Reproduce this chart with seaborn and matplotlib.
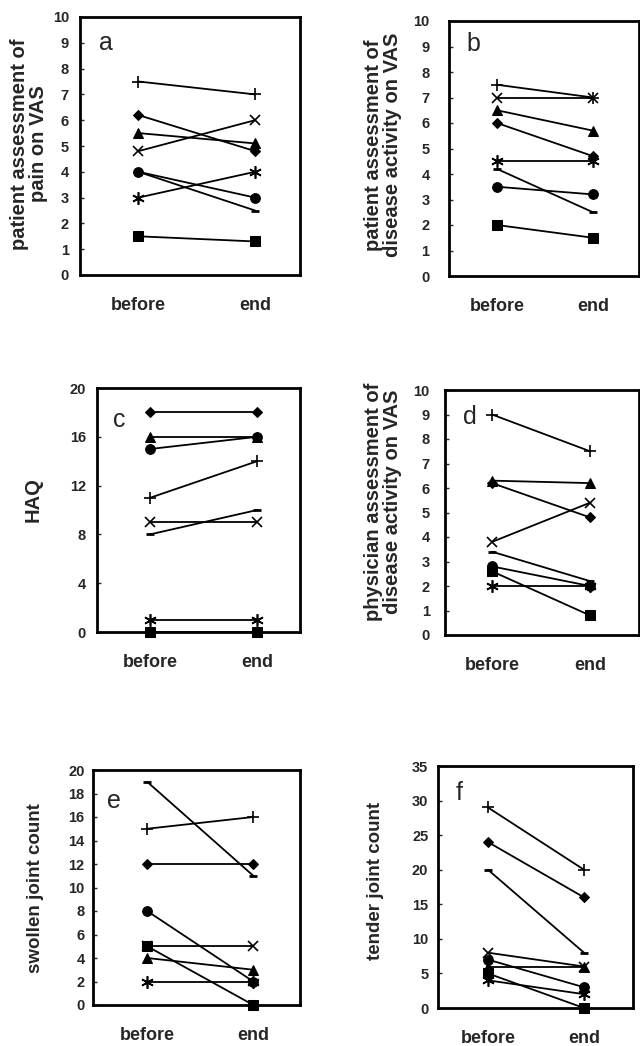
import matplotlib
matplotlib.use("Agg")
import matplotlib.pyplot as plt
import seaborn as sns
import pandas as pd

sns.set_style("white")
plt.rcParams['font.family'] = ['Liberation Sans', 'DejaVu Sans']

# patients (marker types), same order in every panel
patients = ["plus", "diamond", "triangle", "cross", "circle", "dash", "asterisk", "square"]
times = ["before", "end"]

a_before = [7.5, 6.2, 5.5, 4.8, 4.0, 4.0, 3.0, 1.5]
a_end    = [7.0, 4.8, 5.1, 6.0, 3.0, 2.5, 4.0, 1.3]
b_before = [7.5, 6.0, 6.5, 7.0, 3.5, 4.2, 4.5, 2.0]
b_end    = [7.0, 4.7, 5.7, 7.0, 3.2, 2.5, 4.5, 1.5]
c_before = [11, 18, 16, 9, 15, 8, 1, 0]
c_end    = [14, 18, 16, 9, 16, 10, 1, 0]
d_before = [9.0, 6.2, 6.3, 3.8, 2.8, 3.4, 2.0, 2.6]
d_end    = [7.5, 4.8, 6.2, 5.4, 2.0, 2.2, 2.0, 0.8]
e_before = [15, 12, 4, 5, 8, 19, 2, 5]
e_end    = [16, 12, 3, 5, 2, 11, 2, 0]
f_before = [29, 24, 6, 8, 7, 20, 4, 5]
f_end    = [20, 16, 6, 6, 3, 8, 2, 0]

ylabels = ["patient assessment of\npain on VAS",
           "patient assessment of\ndisease activity on VAS",
           "HAQ",
           "physician assessment of\ndisease activity on VAS",
           "swollen joint count",
           "tender joint count"]
letters = ["a", "b", "c", "d", "e", "f"]

marker_style = {
    "plus": dict(marker="+", markersize=9, markeredgewidth=1.2),
    "diamond": dict(marker="D", markersize=5.5),
    "triangle": dict(marker="^", markersize=7),
    "cross": dict(marker="x", markersize=7, markeredgewidth=1.2),
    "circle": dict(marker="o", markersize=7),
    "dash": dict(marker="_", markersize=6, markeredgewidth=2),
    "asterisk": dict(marker=(6, 2, 0), markersize=9, markeredgewidth=1.2),
    "square": dict(marker="s", markersize=6.5),
}

W, H = 640, 1046
fig = plt.figure(figsize=(W / 100, H / 100), dpi=100)

def rect(x0, x1, y0, y1):
    return [x0 / W, (H - y1) / H, (x1 - x0) / W, (y1 - y0) / H]

panels = [
    dict(r=rect(80, 300, 17, 275), xl=(-0.5, 1.385), yt=list(range(0, 11)), ym=10,
         b=a_before, e=a_end, pad=8, lab=(29, 144), fs=14.5, let=(0.12, 0.90)),
    dict(r=rect(449, 639, 21, 276), xl=(-0.5, 1.48), yt=list(range(0, 11)), ym=10,
         b=b_before, e=b_end, pad=14, lab=(383, 145), fs=14.5, let=(0.13, 0.91)),
    dict(r=rect(97, 300, 388, 632), xl=(-0.495, 1.40), yt=list(range(0, 21, 4)), ym=20,
         b=c_before, e=c_end, pad=8, lab=(33, 500), fs=14.5, let=(0.11, 0.87)),
    dict(r=rect(445, 639, 390, 635), xl=(-0.48, 1.5), yt=list(range(0, 11)), ym=10,
         b=d_before, e=d_end, pad=11, lab=(383, 502), fs=14.5, let=(0.13, 0.89)),
    dict(r=rect(93, 300, 770, 1005), xl=(-0.51, 1.44), yt=list(range(0, 21, 2)), ym=20,
         b=e_before, e=e_end, pad=6, lab=(36, 888), fs=13.5, let=(0.10, 0.87)),
    dict(r=rect(438, 633, 766, 1008), xl=(-0.52, 1.51), yt=list(range(0, 36, 5)), ym=35,
         b=f_before, e=f_end, pad=7, lab=(376, 881), fs=13.5, let=(0.11, 0.89)),
]

for i, p in enumerate(panels):
    ax = fig.add_axes(p["r"])
    df = pd.DataFrame({
        "patient": patients * 2,
        "t": [0] * len(patients) + [1] * len(patients),
        "value": list(p["b"]) + list(p["e"]),
    })
    for pat in patients:
        sub = df[df["patient"] == pat]
        sns.lineplot(data=sub, x="t", y="value", ax=ax, color="black",
                     linewidth=1.3, errorbar=None, clip_on=False,
                     markeredgecolor="black", markerfacecolor="black",
                     **marker_style[pat])
    ax.set_xlim(*p["xl"])
    ax.set_ylim(0, p["ym"])
    ax.set_yticks(p["yt"])
    ax.set_yticklabels([str(v) for v in p["yt"]], fontweight="bold", fontsize=10.5)
    ax.set_xticks([0, 1])
    ax.set_xticklabels(times, fontweight="bold", fontsize=13)
    ax.set_xticks([0.5], minor=True)
    ax.tick_params(axis="x", which="major", length=0, pad=16)
    ax.tick_params(axis="x", which="minor", direction="in", length=4, width=1)
    ax.tick_params(axis="y", which="major", direction="in", length=3, width=1,
                   pad=p["pad"], left=True)
    ax.set_xlabel("")
    ax.set_ylabel("")
    for s in ax.spines.values():
        s.set_linewidth(2.0)
        s.set_color("black")
        s.set_visible(True)
    ax.text(p["let"][0], p["let"][1], letters[i], transform=ax.transAxes,
            ha="center", va="center", fontsize=18)
    fig.text(p["lab"][0] / W, 1 - p["lab"][1] / H, ylabels[i], rotation=90,
             ha="center", va="center", multialignment="center",
             fontweight="bold", fontsize=p["fs"], linespacing=1.0)

fig.savefig("out.png", dpi=100)
